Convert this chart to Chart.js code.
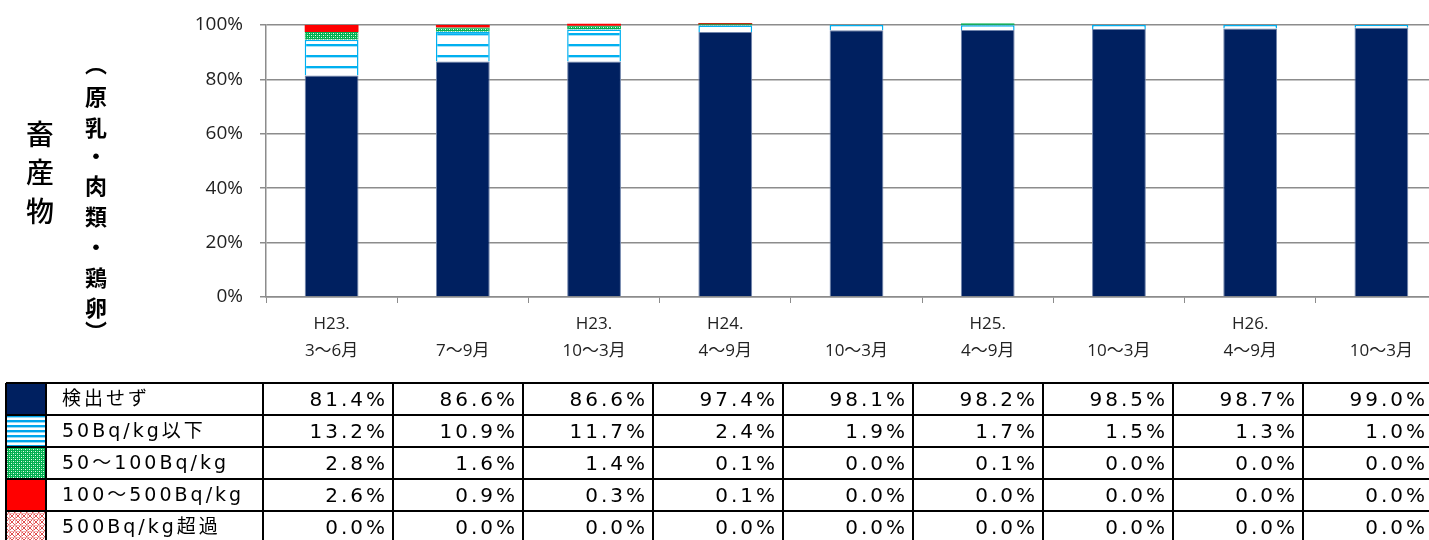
<!DOCTYPE html>
<html lang="ja">
<head>
<meta charset="UTF-8">
<title>畜産物 検査結果</title>
<script src="https://cdn.jsdelivr.net/npm/chart.js"></script>
<style>
  html, body { margin: 0; padding: 0; background: #fff; overflow: hidden; }
  #wrap { width: 1447px; height: 540px; }
</style>
</head>
<body>
<div id="wrap"><canvas id="chart" width="1447" height="540"></canvas></div>
<script>
// categories (two-line tick labels)
const categories = [
  ['H23.', '3〜6月'], ['', '7〜9月'], ['H23.', '10〜3月'],
  ['H24.', '4〜9月'], ['', '10〜3月'], ['H25.', '4〜9月'],
  ['', '10〜3月'], ['H26.', '4〜9月'], ['', '10〜3月']
];
const seriesLabels = ['検出せず', '50Bq/kg以下', '50〜100Bq/kg', '100〜500Bq/kg', '500Bq/kg超過'];

// series values (%)
const notDetected  = [81.4, 86.6, 86.6, 97.4, 98.1, 98.2, 98.5, 98.7, 99.0];
const under50      = [13.2, 10.9, 11.7, 2.4, 1.9, 1.7, 1.5, 1.3, 1.0];
const from50to100  = [2.8, 1.6, 1.4, 0.1, 0.0, 0.1, 0.0, 0.0, 0.0];
const from100to500 = [2.6, 0.9, 0.3, 0.1, 0.0, 0.0, 0.0, 0.0, 0.0];
const over500      = [0.0, 0.0, 0.0, 0.0, 0.0, 0.0, 0.0, 0.0, 0.0];

const tableRows = [notDetected, under50, from50to100, from100to500, over500];

const canvas = document.getElementById('chart');
const ctx = canvas.getContext('2d');

// fill patterns
function makePattern(w, h, draw) {
  const c = document.createElement('canvas');
  c.width = w; c.height = h;
  draw(c.getContext('2d'));
  return ctx.createPattern(c, 'repeat');
}
const stripeBar = makePattern(8, 11, g => {
  g.fillStyle = '#fff'; g.fillRect(0, 0, 8, 11);
  g.fillStyle = '#00B0F0'; g.fillRect(0, 0, 8, 2);
  g.fillStyle = '#A8E2F8'; g.fillRect(0, 2, 8, 1);
});
const stripeSwatch = makePattern(8, 5, g => {
  g.fillStyle = '#fff'; g.fillRect(0, 0, 8, 5);
  g.fillStyle = '#00A6EC'; g.fillRect(0, 0, 8, 2);
  g.fillStyle = '#9ADCF6'; g.fillRect(0, 2, 8, 1);
});
const dots = makePattern(4, 4, g => {
  g.fillStyle = '#00B050'; g.fillRect(0, 0, 4, 4);
  g.fillStyle = '#E8FFF0'; g.fillRect(1, 1, 1, 1); g.fillRect(3, 3, 1, 1);
  g.fillStyle = '#7ED9A0'; g.fillRect(1, 3, 1, 1); g.fillRect(3, 1, 1, 1);
});
const cross = makePattern(6, 6, g => {
  g.fillStyle = '#fff'; g.fillRect(0, 0, 6, 6);
  g.fillStyle = '#E05050';
  for (let i = 0; i < 6; i++) { g.fillRect(i, i, 1, 1); g.fillRect(5 - i, i, 1, 1); }
  g.fillStyle = '#F4B0B0'; g.fillRect(3, 0, 1, 6); g.fillRect(0, 3, 6, 1);
});

const swatches = ['#002060', stripeSwatch, dots, '#FF0000', cross];

// zero values are left out of the bars
const bars = arr => arr.map(v => v === 0 ? null : v);

const dataTable = {
  id: 'dataTable',
  afterDraw(chart) {
    const c = chart.ctx;
    const top = 383, rowH = 32, x0 = 6, swR = 46, labR = 263, colW = 130, right = 1447;
    c.save();
    tableRows.forEach((vals, r) => {
      const y = top + r * rowH;
      c.fillStyle = swatches[r];
      c.fillRect(x0 + 1, y + 1, swR - x0 - 2, rowH - 2);
      c.fillStyle = '#000';
      c.textBaseline = 'middle';
      c.textAlign = 'left';
      c.font = '19px "DejaVu Sans", "Noto Sans CJK JP"';
      c.letterSpacing = '3px';
      c.fillText(seriesLabels[r], 62, y + rowH / 2 + 1);
      c.textAlign = 'right';
      c.font = '20px "DejaVu Sans"';
      c.letterSpacing = '3px';
      vals.forEach((v, i) => {
        c.fillText(v.toFixed(1) + '%', labR + (i + 1) * colW - 5, y + rowH / 2 + 2);
      });
    });
    c.letterSpacing = '0px';
    c.strokeStyle = '#000';
    c.lineWidth = 2;
    c.beginPath();
    for (let r = 0; r <= 5; r++) {
      c.moveTo(x0, top + r * rowH); c.lineTo(right, top + r * rowH);
    }
    [x0, swR, labR].concat(tableRows[0].map((_, i) => labR + (i + 1) * colW)).forEach(x => {
      c.moveTo(x, top); c.lineTo(x, 545);
    });
    c.stroke();

    // vertical titles
    c.fillStyle = '#000';
    c.textAlign = 'center';
    c.textBaseline = 'middle';
    c.font = '500 28px "Noto Sans CJK JP"';
    ['畜', '産', '物'].forEach((ch, i) => c.fillText(ch, 40, 134 + i * 38.5));
    c.font = 'bold 22px "Noto Sans CJK JP"';
    const sub = ['︵', '原', '乳', '・', '肉', '類', '・', '鶏', '卵', '︶'];
    const ys = [64, 97, 128, 156, 186, 217, 247, 278, 308, 332];
    sub.forEach((ch, i) => c.fillText(ch, 96, ys[i]));
    c.restore();
  }
};

new Chart(ctx, {
  type: 'bar',
  data: {
    labels: categories,
    datasets: [
      { label: seriesLabels[0], data: bars(notDetected), backgroundColor: '#002060',
        borderColor: '#7185AC', borderWidth: 1 },
      { label: seriesLabels[1], data: bars(under50), backgroundColor: stripeBar,
        borderColor: '#00B0F0', borderWidth: 1.5 },
      { label: seriesLabels[2], data: bars(from50to100), backgroundColor: dots,
        borderColor: '#00B050', borderWidth: 1, minBarLength: 2, clip: 3 },
      { label: seriesLabels[3], data: bars(from100to500), backgroundColor: '#FF0000',
        minBarLength: 2, clip: 3 },
      { label: seriesLabels[4], data: bars(over500), backgroundColor: cross }
    ]
  },
  options: {
    responsive: false,
    animation: false,
    layout: { padding: { top: 25, left: 0, right: 0, bottom: 0 } },
    datasets: { bar: { categoryPercentage: 1, barPercentage: 0.41, borderSkipped: 'start' } },
    plugins: { legend: { display: false }, tooltip: { enabled: false } },
    scales: {
      x: {
        stacked: true,
        afterFit: s => { s.height = 243; },
        grid: { drawOnChartArea: false, tickLength: 6, color: '#8C8C8C' },
        border: { color: '#8C8C8C', width: 1.5 },
        ticks: {
          padding: 8, maxRotation: 0, autoSkip: false, color: '#222',
          font: { family: '"Open Sans", "Noto Sans CJK JP"', size: 17, lineHeight: 27 / 17 }
        }
      },
      y: {
        stacked: true,
        min: 0, max: 100,
        afterFit: s => { s.width = 266; s.paddingTop = 0; s.paddingBottom = 0; },
        grid: { color: '#8C8C8C', lineWidth: 1.5, tickLength: 6 },
        border: { color: '#8C8C8C', width: 1.5 },
        ticks: {
          stepSize: 20, padding: 17, color: '#222',
          font: { family: '"Open Sans"', size: 19 },
          callback: v => v + '%'
        }
      }
    }
  },
  plugins: [dataTable]
});
</script>
</body>
</html>
